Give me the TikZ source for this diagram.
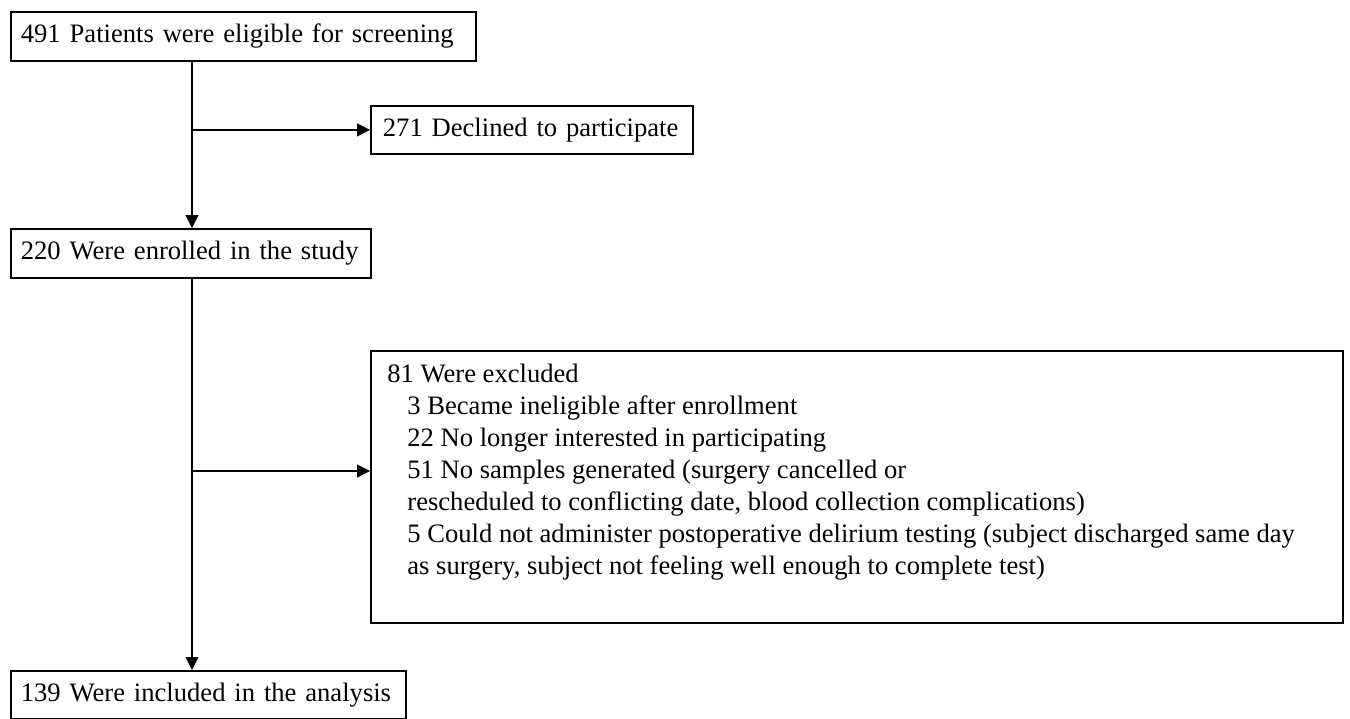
\documentclass[tikz,border=0pt]{standalone}
\usepackage{fontspec}
\setmainfont{Liberation Serif}
\usetikzlibrary{arrows.meta}

\tikzset{
  flowbox/.style={draw, line width=0.9pt, anchor=north west, inner xsep=5pt, inner ysep=0pt,
    align=left, font=\fontsize{13.3}{16}\selectfont},
  flowarrow/.style={-{Triangle[length=6.5pt,width=6.5pt]}, line width=0.6pt},
}

\begin{document}
\begin{tikzpicture}[x=0.5pt, y=-0.5pt]

  \useasboundingbox (0,0) rectangle (1350,718);

  \node[flowbox, text width=222.5pt, minimum height=24.5pt] (screen) at (10,11)
    {\mbox{491 Patients were eligible for screening}};
  \node[flowbox, inner xsep=6pt, text width=149pt, minimum height=24pt] (declined) at (370,105)
    {\mbox{271 Declined to participate}};
  \node[flowbox, text width=170pt, minimum height=24.5pt] (enrolled) at (10,228)
    {\mbox{220 Were enrolled in the study}};
  \node[flowbox, inner sep=0pt, minimum width=486pt, minimum height=136pt] (excluded) at (370,350) {};
  \node[anchor=north west, inner sep=0pt, align=left, font=\fontsize{13.3}{16}\selectfont] (exclnote) at (387,364)
    {81 Were excluded\\
     \hspace*{10pt}3 Became ineligible after enrollment\\
     \hspace*{10pt}22 No longer interested in participating\\
     \hspace*{10pt}51 No samples generated (surgery cancelled or\\
     \hspace*{10pt}rescheduled to conflicting date, blood collection complications)\\
     \hspace*{10pt}5 Could not administer postoperative delirium testing (subject discharged same day\\
     \hspace*{10pt}as surgery, subject not feeling well enough to complete test)};
  \node[flowbox, text width=187.5pt, minimum height=24pt] (included) at (10,670)
    {\mbox{139 Were included in the analysis}};

  \coordinate (trunk) at (192,0);
  \coordinate (branchA) at (trunk |- declined.west);
  \coordinate (branchB) at (192,471);

  \draw[flowarrow] (screen.south -| trunk) -- (enrolled.north -| trunk);
  \draw[flowarrow] (branchA) -- (declined.west);
  \draw[flowarrow] (enrolled.south -| trunk) -- (included.north -| trunk);
  \draw[flowarrow] (branchB) -- (branchB -| excluded.west);

\end{tikzpicture}
\end{document}
